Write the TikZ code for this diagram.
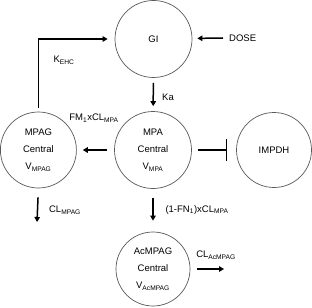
\documentclass[tikz,border=0pt]{standalone}
\usepackage{fontspec}
\setmainfont{Liberation Sans}
\usetikzlibrary{arrows.meta}
\begin{document}
\begin{tikzpicture}[x=1pt,y=-1pt,
  comp/.style={circle,draw=black!65,line width=0.7pt,minimum size=#1,inner sep=0pt,align=center,font=\fontsize{9.5}{17}\selectfont},
  lbl/.style={font=\fontsize{9.5}{11}\selectfont,inner sep=0pt},
  arr/.style={line width=1.5pt,-{Triangle[length=5pt,width=5.5pt]}},
  inh/.style={line width=1.5pt,-{Bar[width=22pt,line width=1.5pt]}}]
\useasboundingbox (0,0) rectangle (312,307);
\node[comp=77pt] (gi) at (153.5,39) {GI};
\node[comp=77pt] (mpa) at (153,150) {MPA\\Central\\V\textsubscript{MPA}};
\node[comp=76pt] (mpag) at (38.4,150) {MPAG\\Central\\V\textsubscript{MPAG}};
\node[comp=75pt] (impdh) at (274,150) {IMPDH};
\node[comp=74pt] (acmpag) at (153,269) {AcMPAG\\Central\\V\textsubscript{AcMPAG}};
\node[lbl,anchor=west] (dose) at (229,38) {DOSE};
\coordinate (clmpagend) at (37,222);
\coordinate (clacend) at (224,269);
\draw[arr,shorten >=5pt] (dose.west) ++(-6,0) coordinate (dosestart) -- (gi);
\draw[arr,shorten <=4pt,shorten >=7pt] (mpag.north) |- (gi.west);
\draw[arr,shorten <=5pt,shorten >=5pt] (gi) -- (mpa);
\draw[arr,shorten <=7pt,shorten >=6pt] (mpa) -- (mpag);
\draw[inh,shorten <=6pt,shorten >=9pt] (mpa) -- (impdh);
\draw[arr,shorten <=9pt] (mpag.south) -- (clmpagend);
\draw[arr,shorten <=9pt,shorten >=11pt] (mpa) -- (acmpag);
\draw[arr,shorten <=7pt] (acmpag.east) -- (clacend);
\node[lbl] (kehc) at (64,60) {K\textsubscript{EHC}};
\node[lbl] (ka) at (168,97) {Ka};
\node[lbl] (fm) at (94,118) {FM\textsubscript{1}xCL\textsubscript{MPA}};
\node[lbl] (clmpag) at (65,210) {CL\textsubscript{MPAG}};
\node[lbl] (fn) at (197,210) {(1-FN\textsubscript{1})xCL\textsubscript{MPA}};
\node[lbl] (clac) at (216,255) {CL\textsubscript{AcMPAG}};
\end{tikzpicture}
\end{document}
